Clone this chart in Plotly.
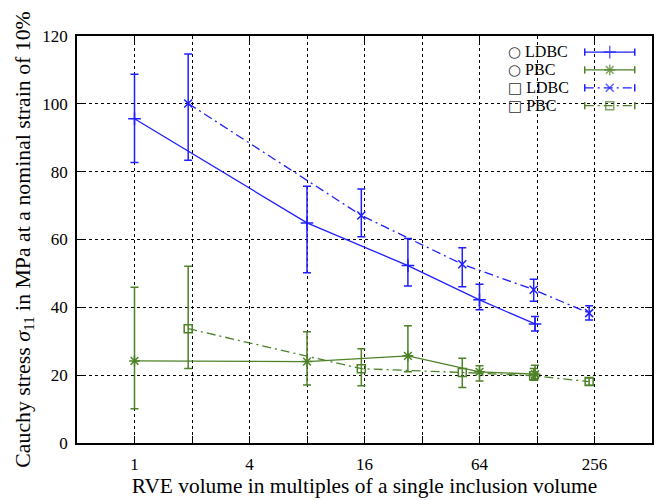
import plotly.graph_objects as go

# ---------------- data ----------------
# circle inclusions
x_circ = [1, 8, 27, 64, 125]
ldbc_circ = [95.6, 64.9, 52.3, 42.2, 35.1]
ldbc_circ_hi = [108.7, 75.7, 60.3, 46.8, 37.3]
ldbc_circ_lo = [82.7, 50.2, 46.3, 39.3, 33.0]
pbc_circ = [24.2, 24.0, 25.7, 21.0, 20.3]
pbc_circ_hi = [45.9, 32.8, 34.6, 22.8, 22.9]
pbc_circ_lo = [10.1, 17.1, 21.0, 18.3, 19.0]

# square inclusions
x_sq = [1.91, 15.4, 52, 123, 240]
ldbc_sq = [100.1, 67.1, 52.7, 45.2, 38.3]
ldbc_sq_hi = [114.7, 74.9, 57.6, 48.3, 40.5]
ldbc_sq_lo = [83.4, 60.8, 46.1, 41.8, 36.3]
pbc_sq = [33.7, 21.9, 20.8, 19.8, 18.1]
pbc_sq_hi = [52.1, 27.8, 25.0, 22.0, 19.2]
pbc_sq_lo = [22.0, 16.9, 16.4, 18.5, 17.0]

x_major = [1, 4, 16, 64, 256]
x_major_text = ["1", "4", "16", "64", "256"]
x_minor = [2, 8, 32, 128]
y_tickvals = [0, 20, 40, 60, 80, 100, 120]

legend_syms = ["○", "○", "□", "□"]
legend_labels = ["LDBC", "PBC", "LDBC", "PBC"]

# ---------------- styles ----------------
BLUE = "#1f1fff"
GREEN = "#4d8228"
DASHDOT = "9px,4px,2px,4px"
FONT = "Liberation Serif"

series = [
    (x_circ, ldbc_circ, ldbc_circ_hi, ldbc_circ_lo, BLUE, "solid", "cross-thin-open", 9),
    (x_circ, pbc_circ, pbc_circ_hi, pbc_circ_lo, GREEN, "solid", "asterisk-open", 9),
    (x_sq, ldbc_sq, ldbc_sq_hi, ldbc_sq_lo, BLUE, DASHDOT, "x-thin-open", 8),
    (x_sq, pbc_sq, pbc_sq_hi, pbc_sq_lo, GREEN, DASHDOT, "square-open", 8),
]

fig = go.Figure()
for xs, ys, hi, lo, col, dash, sym, msz in series:
    fig.add_trace(go.Scatter(
        x=xs, y=ys, mode="lines+markers",
        line=dict(color=col, width=1.3, dash=dash),
        marker=dict(symbol=sym, size=msz, color=col, line=dict(color=col, width=1.5)),
        error_y=dict(type="data", symmetric=False,
                     array=[h - v for h, v in zip(hi, ys)],
                     arrayminus=[v - l for v, l in zip(ys, lo)],
                     color=col, thickness=1.5, width=4),
        showlegend=False, cliponaxis=False,
    ))

# ---------------- custom gnuplot-style key ----------------
key_x0, key_x1 = 0.883, 0.970
key_rows = [0.9605, 0.9166, 0.8727, 0.8288]
cap = 0.009
for (xs, ys, hi, lo, col, dash, sym, msz), ky, ks, lab in zip(series, key_rows, legend_syms, legend_labels):
    fig.add_trace(go.Scatter(
        x=[key_x0, (key_x0 + key_x1) / 2, key_x1], y=[ky, ky, ky],
        xaxis="x3", yaxis="y3", mode="lines+markers",
        line=dict(color=col, width=1.3, dash=dash),
        marker=dict(symbol=sym, size=[0, msz, 0], color=col,
                    line=dict(color=col, width=1.5)),
        error_y=dict(type="data", array=[cap, 0, cap], color=col,
                     thickness=1.5, width=0),
        showlegend=False, hoverinfo="skip",
    ))
    fig.add_annotation(
        x=0.750, y=ky, xref="paper", yref="paper",
        text="<span style='font-family:DejaVu Sans;font-size:15px;fill:#333'>" + ks
             + "</span> " + lab,
        showarrow=False, xanchor="left", yanchor="middle",
        borderpad=0, borderwidth=0,
        font=dict(family=FONT, size=16, color="black"))

axis_common = dict(
    showline=True, linecolor="black", linewidth=1.5,
    ticks="inside", ticklen=7, tickwidth=1.2, tickcolor="black",
    showgrid=True, gridcolor="black", griddash="dot", gridwidth=1,
    zeroline=False,
    tickfont=dict(family=FONT, size=17, color="black"),
)

fig.update_layout(
    width=663, height=500,
    margin=dict(l=77, r=9, t=36, b=54),
    plot_bgcolor="white", paper_bgcolor="white",
    font=dict(family=FONT, color="black"),
    xaxis=dict(
        type="log", range=[-0.30103, 2.70927],
        tickvals=x_major, ticktext=x_major_text,
        mirror=True, ticklabelstandoff=5,
        minor=dict(tickvals=x_minor, ticks="inside", ticklen=7, tickwidth=1.2,
                   tickcolor="black", showgrid=True, gridcolor="black",
                   griddash="dot", gridwidth=1),
        title=dict(text="RVE volume in multiples of a single inclusion volume",
                   font=dict(family=FONT, size=21.4, color="black"), standoff=2),
        **axis_common,
    ),
    xaxis2=dict(
        type="log", range=[-0.30103, 2.70927], overlaying="x", side="top",
        tickvals=x_major, showticklabels=False, ticks="inside", ticklen=7,
        tickwidth=1.2, tickcolor="black", showgrid=False, showline=False,
        zeroline=False,
    ),
    yaxis=dict(
        range=[0, 120], tickvals=y_tickvals, mirror="ticks",
        ticklabelstandoff=4,
        title=dict(text="Cauchy stress <i>σ</i><sub>11</sub> in MPa at a nominal strain of 10%",
                   font=dict(family=FONT, size=21.8, color="black"), standoff=6),
        **axis_common,
    ),
    xaxis3=dict(range=[0, 1], visible=False, overlaying="x", anchor="y3"),
    yaxis3=dict(range=[0, 1], visible=False, overlaying="y", anchor="x3"),
)
# invisible trace so the top tick axis is drawn
fig.add_trace(go.Scatter(x=[1], y=[0], xaxis="x2", mode="markers",
                         marker=dict(opacity=0), showlegend=False, hoverinfo="skip"))

fig.write_html("out.html")
